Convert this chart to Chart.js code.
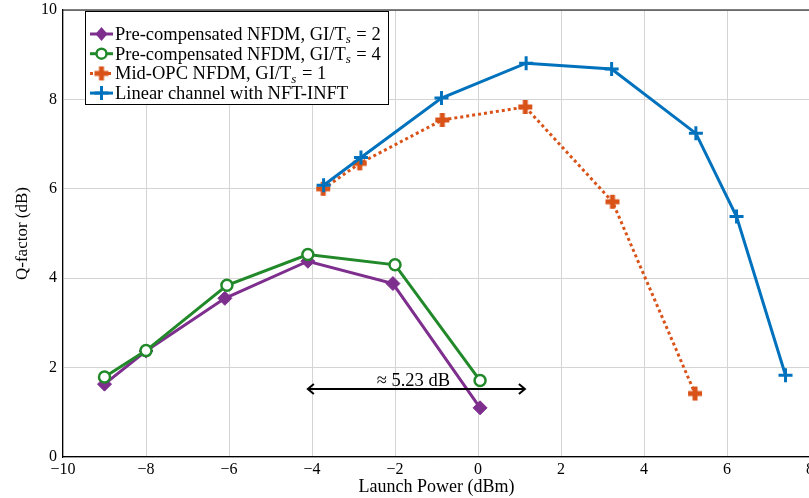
<!DOCTYPE html>
<html>
<head>
<meta charset="utf-8">
<script src="https://cdn.jsdelivr.net/npm/chart.js@4"></script>
<style>
  html, body { margin: 0; padding: 0; background: #fff; overflow: hidden; }
  #chart { display: block; }
</style>
</head>
<body>
<canvas id="chart" width="820" height="498"></canvas>
<script>
// launch power (dBm) and Q-factor (dB) for each scheme
const precomp2Power = [-9, -8, -6.1, -4.1, -2.05, 0.05];
const precomp2Q = [1.63, 2.37, 3.55, 4.38, 3.88, 1.1];
const precomp4Power = [-9, -8, -6.05, -4.1, -2, 0.05];
const precomp4Q = [1.79, 2.38, 3.84, 4.53, 4.3, 1.71];
const midOpcPower = [-3.73, -2.85, -0.86, 1.14, 3.24, 5.23];
const midOpcQ = [6.0, 6.57, 7.54, 7.83, 5.71, 1.42];
const linearPower = [-3.72, -2.82, -0.88, 1.16, 3.22, 5.25, 6.23, 7.41];
const linearQ = [6.08, 6.7, 8.03, 8.81, 8.68, 7.24, 5.38, 1.83];

const seriesNames = [
    ['Pre-compensated NFDM, GI/T', 's', ' = 2'],
    ['Pre-compensated NFDM, GI/T', 's', ' = 4'],
    ['Mid-OPC NFDM, GI/T', 's', ' = 1'],
    ['Linear channel with NFT-INFT', '', '']
];

// gain between the two peaks
const gainStart = -4.1;
const gainEnd = 1.13;
const gainLevel = 1.52;
const gainText = '\u2248 5.23 dB';

const xTicks = [-10, -8, -6, -4, -2, 0, 2, 4, 6, 8];
const yTicks = [0, 2, 4, 6, 8, 10];

const PURPLE = '#7E2F8E';
const GREEN = '#22892A';
const ORANGE = '#D95319';
const BLUE = '#0072BD';
const SERIF = '"Liberation Serif", "DejaVu Serif", serif';

function toPoints(xs, ys) {
    return xs.map((x, i) => ({ x: x, y: ys[i] }));
}

// thick plus used as the mid-OPC marker
function makePlusMark(color) {
    const c = document.createElement('canvas');
    c.width = 16;
    c.height = 16;
    const g = c.getContext('2d');
    g.fillStyle = color;
    g.fillRect(5.5, 1, 5, 14);
    g.fillRect(1, 5.5, 14, 5);
    return c;
}
const plusMark = makePlusMark(ORANGE);

function drawMarker(ctx, kind, x, y) {
    ctx.save();
    ctx.lineWidth = 2.5;
    if (kind === 0) {
        ctx.fillStyle = PURPLE;
        ctx.beginPath();
        ctx.moveTo(x, y - 7);
        ctx.lineTo(x + 6, y);
        ctx.lineTo(x, y + 7);
        ctx.lineTo(x - 6, y);
        ctx.closePath();
        ctx.fill();
    } else if (kind === 1) {
        ctx.strokeStyle = GREEN;
        ctx.fillStyle = '#fff';
        ctx.beginPath();
        ctx.arc(x, y, 5, 0, Math.PI * 2);
        ctx.fill();
        ctx.stroke();
    } else if (kind === 2) {
        ctx.drawImage(plusMark, x - 8, y - 8);
    } else {
        ctx.strokeStyle = BLUE;
        ctx.lineWidth = 3;
        ctx.beginPath();
        ctx.moveTo(x - 7, y);
        ctx.lineTo(x + 7, y);
        ctx.moveTo(x, y - 7);
        ctx.lineTo(x, y + 7);
        ctx.stroke();
    }
    ctx.restore();
}

const frameAndLegend = {
    id: 'frameAndLegend',
    afterDatasetsDraw(chart) {
        const ctx = chart.ctx;
        const area = chart.chartArea;
        const xs = chart.scales.x;
        const ys = chart.scales.y;

        // double arrow showing the gain
        const x0 = xs.getPixelForValue(gainStart);
        const x1 = xs.getPixelForValue(gainEnd);
        const yy = ys.getPixelForValue(gainLevel);
        ctx.save();
        ctx.strokeStyle = '#000';
        ctx.lineWidth = 2;
        ctx.beginPath();
        ctx.moveTo(x0, yy);
        ctx.lineTo(x1, yy);
        ctx.moveTo(x0 + 6, yy - 5);
        ctx.lineTo(x0, yy);
        ctx.lineTo(x0 + 6, yy + 5);
        ctx.moveTo(x1 - 6, yy - 5);
        ctx.lineTo(x1, yy);
        ctx.lineTo(x1 - 6, yy + 5);
        ctx.stroke();
        ctx.fillStyle = '#000';
        ctx.font = '18.5px ' + SERIF;
        ctx.textAlign = 'center';
        ctx.textBaseline = 'alphabetic';
        ctx.fillText(gainText, (x0 + x1) / 2 - 3, yy - 3);

        // top and right frame lines
        ctx.lineWidth = 1.2;
        ctx.beginPath();
        ctx.moveTo(area.left, area.top);
        ctx.lineTo(area.right, area.top);
        ctx.lineTo(area.right, area.bottom);
        ctx.stroke();

        // legend box
        const bx = 85, by = 11, bw = 303, bh = 93;
        ctx.fillStyle = '#fff';
        ctx.fillRect(bx, by, bw, bh);
        ctx.strokeStyle = '#000';
        ctx.lineWidth = 1;
        ctx.strokeRect(bx + 0.5, by + 0.5, bw, bh);

        const colors = [PURPLE, GREEN, ORANGE, BLUE];
        seriesNames.forEach((name, i) => {
            const ry = 34 + i * 19.7;
            ctx.strokeStyle = colors[i];
            ctx.lineWidth = 3;
            ctx.setLineDash(i === 2 ? [3, 3] : []);
            ctx.beginPath();
            ctx.moveTo(90, ry);
            ctx.lineTo(113, ry);
            ctx.stroke();
            ctx.setLineDash([]);
            drawMarker(ctx, i, 101.5, ry);

            ctx.fillStyle = '#000';
            ctx.textAlign = 'left';
            ctx.textBaseline = 'middle';
            ctx.font = '18.5px ' + SERIF;
            let tx = 115;
            ctx.fillText(name[0], tx, ry + 1);
            tx += ctx.measureText(name[0]).width;
            if (name[1]) {
                ctx.font = 'italic 13px ' + SERIF;
                ctx.fillText(name[1], tx, ry + 6);
                tx += ctx.measureText(name[1]).width + 1;
                ctx.font = '18.5px ' + SERIF;
                ctx.fillText(name[2], tx, ry + 1);
            }
        });
        ctx.restore();
    }
};

const datasets = [
    {
        data: toPoints(precomp2Power, precomp2Q),
        borderColor: PURPLE,
        backgroundColor: PURPLE,
        pointStyle: 'rectRot',
        pointRadius: 7,
        pointBorderWidth: 1,
        order: 3
    },
    {
        data: toPoints(precomp4Power, precomp4Q),
        borderColor: GREEN,
        backgroundColor: '#fff',
        pointStyle: 'circle',
        pointRadius: 5.5,
        pointBorderWidth: 2.5,
        order: 2
    },
    {
        data: toPoints(midOpcPower, midOpcQ),
        borderColor: ORANGE,
        backgroundColor: ORANGE,
        borderDash: [3, 3],
        pointStyle: plusMark,
        order: 1
    },
    {
        data: toPoints(linearPower, linearQ),
        borderColor: BLUE,
        backgroundColor: BLUE,
        pointStyle: 'cross',
        pointRadius: 7,
        pointBorderWidth: 3,
        order: 0
    }
];

new Chart(document.getElementById('chart'), {
    type: 'line',
    data: { datasets: datasets },
    options: {
        responsive: false,
        animation: false,
        devicePixelRatio: 1,
        layout: { padding: { left: 0, top: 9, right: 8, bottom: 0 } },
        elements: {
            line: { borderWidth: 3, tension: 0, fill: false },
            point: { hoverRadius: 6 }
        },
        plugins: {
            legend: { display: false },
            tooltip: { enabled: false }
        },
        scales: {
            x: {
                type: 'linear',
                min: -10,
                max: 8,
                afterFit(scale) {
                    scale.height = 41;
                    scale.paddingRight = 0;
                },
                afterBuildTicks(scale) { scale.ticks = xTicks.map(v => ({ value: v })); },
                grid: { color: '#d4d4d4', lineWidth: 1, drawTicks: false },
                border: { color: '#000', width: 1.2 },
                ticks: {
                    padding: 3,
                    color: '#000',
                    font: { family: SERIF, size: 16 },
                    callback: v => String(v).replace('-', '\u2212')
                },
                title: {
                    display: true,
                    text: 'Launch Power (dBm)',
                    color: '#000',
                    font: { family: SERIF, size: 18 },
                    padding: { top: 0, bottom: 0 }
                }
            },
            y: {
                min: 0,
                max: 10,
                afterFit(scale) {
                    scale.width = 63;
                    scale.paddingTop = 0;
                    scale.paddingBottom = 0;
                },
                afterBuildTicks(scale) { scale.ticks = yTicks.map(v => ({ value: v })); },
                grid: { color: '#d4d4d4', lineWidth: 1, drawTicks: false },
                border: { color: '#000', width: 1.2 },
                ticks: {
                    padding: 6,
                    color: '#000',
                    font: { family: SERIF, size: 16 }
                },
                title: {
                    display: true,
                    text: 'Q-factor (dB)',
                    color: '#000',
                    font: { family: SERIF, size: 17 },
                    padding: { top: 12, bottom: 0 }
                }
            }
        }
    },
    plugins: [frameAndLegend]
});
</script>
</body>
</html>
